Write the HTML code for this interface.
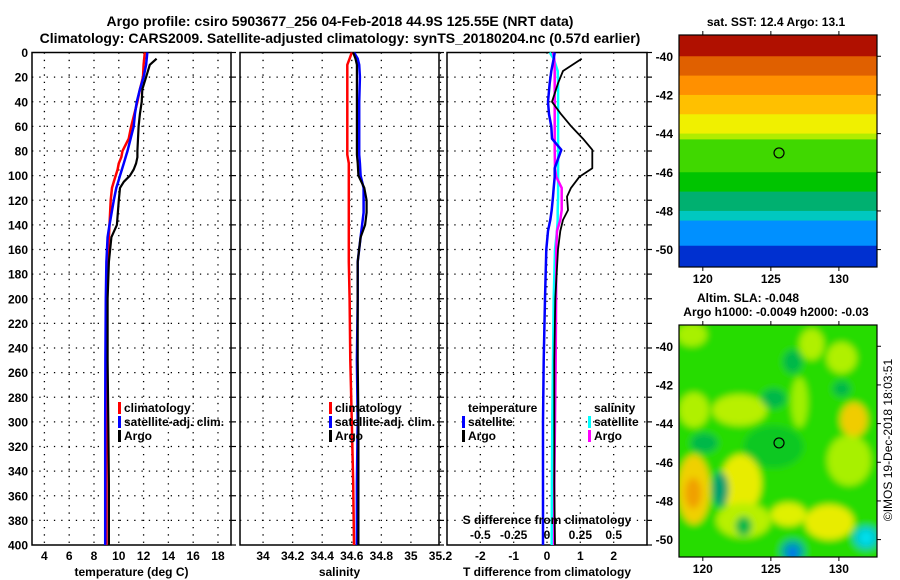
<!DOCTYPE html>
<html><head><meta charset="utf-8">
<style>
html,body{margin:0;padding:0;background:#fff;}
svg{display:block;font-family:"Liberation Sans",sans-serif;font-weight:bold;}
</style></head>
<body>
<svg id="fig" width="900" height="580" viewBox="0 0 900 580" xmlns="http://www.w3.org/2000/svg">
<text x="340" y="26" font-size="14" text-anchor="middle">Argo profile: csiro 5903677_256 04-Feb-2018 44.9S 125.55E (NRT data)</text>
<text x="340" y="43" font-size="14" text-anchor="middle">Climatology: CARS2009. Satellite-adjusted climatology: synTS_20180204.nc (0.57d earlier)</text>
<text x="776" y="26" font-size="12" text-anchor="middle">sat. SST: 12.4 Argo: 13.1</text>
<text x="748" y="302" font-size="12" text-anchor="middle">Altim. SLA: -0.048</text>
<text x="776" y="316" font-size="12" text-anchor="middle">Argo h1000: -0.0049 h2000: -0.03</text>
<text x="0" y="0" font-size="12" font-weight="normal" text-anchor="middle" transform="translate(892,440) rotate(-90)">©IMOS 19-Dec-2018 18:03:51</text>
<g id="plots"></g>
</svg>
<script>
// ---------- data ----------
const tPres   = [0,5,10,20,30,40,50,60,70,80,85,90,95,100,105,110,120,140,150,170,200,250,300,350,400];
const tArgo   = [null,13.05,12.5,12.2,11.9,11.85,11.7,11.6,11.55,11.5,11.5,11.4,11.2,10.9,10.4,10.1,10.0,9.85,9.4,9.2,9.1,9.1,9.15,9.2,9.2];
const tClim   = [12.1,12.05,12.0,11.95,11.7,11.5,11.25,11.0,10.8,10.3,10.2,10.0,9.9,9.75,9.6,9.45,9.35,9.25,9.2,9.1,9.05,9.0,9.0,9.0,9.0];
const tSat    = [12.3,12.25,12.2,12.0,11.7,11.45,11.3,11.2,10.95,10.7,10.55,10.4,10.25,10.1,9.95,9.8,9.6,9.25,9.1,9.0,8.95,8.92,8.9,8.9,8.9];

const sPres   = [0,5,10,20,40,60,83,90,100,110,120,130,140,150,170,200,250,300,350,400];
const sClim   = [34.6,34.585,34.57,34.57,34.57,34.57,34.57,34.58,34.58,34.58,34.58,34.58,34.58,34.58,34.58,34.585,34.59,34.6,34.61,34.615];
const sSat    = [34.615,34.64,34.65,34.655,34.65,34.65,34.65,34.655,34.66,34.68,34.68,34.68,34.67,34.66,34.64,34.64,34.635,34.64,34.635,34.635];
const sArgo   = [34.61,34.625,34.635,34.635,34.635,34.635,34.635,34.64,34.645,34.685,34.7,34.7,34.69,34.66,34.64,34.64,34.64,34.645,34.645,34.645];

const dPres   = [0,5,15,25,40,50,60,70,79,94,101,110,117,128,136,145,160,200,250,300,350,400];
const dTArgo  = [null,1.04,0.48,0.33,0.15,0.42,0.73,1.08,1.36,1.36,0.97,0.72,0.6,0.63,0.48,0.4,0.33,0.25,0.22,0.22,0.22,0.24];
const dTSat   = [0.23,0.2,0.13,0.08,0.03,0.06,0.13,0.15,0.43,0.23,0.23,0.2,0.18,0.14,0.1,0.03,-0.02,-0.06,-0.1,-0.12,-0.12,-0.12];
const dSArgo  = [0.045,0.055,0.058,0.058,0.058,0.058,0.058,0.058,0.058,0.06,0.07,0.11,0.11,0.11,0.1,0.075,0.07,0.068,0.065,0.06,0.055,0.053];
const dSSat   = [0.02,0.05,0.08,0.083,0.083,0.083,0.083,0.083,0.083,0.083,0.083,0.083,0.083,0.08,0.08,0.075,0.06,0.05,0.045,0.04,0.037,0.035];

// SST map: palette index per latitude row, from -38.9 southward
const sstRowLat = [-38.9,-39.5,-40.0,-40.5,-41.0,-41.5,-42.0,-42.5,-43.0,-43.5,-44.0,-44.3,-45.0,-45.5,-46.0,-46.5,-47.0,-47.5,-48.0,-48.5,-49.0,-49.5,-49.8,-50.3];
const sstRowVal = [12,11.7,11.3,10.8,10.2,9.5,9.0,8.6,8.0,7.7,7.2,5.6,5.5,5.5,5.2,4.8,4.3,3.6,2.8,2.4,2.0,1.5,0.8,0.5];
const argoLon = 125.6, argoLat = -45.0;

// SLA map anomalies: lon, lat, radius lon (deg), radius lat (deg), colour
const blobLon = [125.2,119.2,119.35,122.7,119.35,122.8,123.0,129.3,126.3,131.1,130.75,130.2,128.0,127.1,119.3,126.6,125.2,120.1,121.3,130.2,123.0,126.6,126.6,132.0,132.0];
const blobLat = [-45.2,-39.4,-43.3,-43.3,-47.4,-47.1,-49.0,-49.1,-48.7,-43.8,-45.9,-40.6,-39.9,-42.9,-47.6,-40.8,-42.7,-45.0,-47.4,-42.2,-49.3,-50.6,-50.7,-49.9,-49.9];
const blobRx  = [2.2,1.1,1.1,2.0,1.2,1.5,2.0,1.8,1.3,1.0,1.6,1.1,0.9,0.6,0.6,0.7,0.9,1.0,0.6,0.65,0.6,0.9,0.35,0.95,0.45];
const blobRy  = [1.1,0.6,0.9,0.8,1.8,1.5,0.9,0.9,0.6,0.9,1.3,0.8,0.8,1.3,0.8,0.6,0.5,0.5,0.9,0.4,0.5,0.6,0.35,0.6,0.35];
const blobCol = ["#10c820","#a8f000","#b0f000","#b8f000","#f0d000","#e8ec00","#b8f000","#e8ec00","#e0f000","#f0cc00","#a8f000","#b0f000","#b0f000","#a0f000","#f0a000","#00b848","#00b848","#00b848","#00a070","#00b848","#00b848","#00a8a0","#0070f0","#00c8c8","#00e0f0"];

const pal = ["#00008c","#0030d0","#0090ff","#00c8c0","#00b070","#00c400","#40d800","#b0ec00","#f0f000","#ffc000","#ff9000","#e06000","#b01000","#a00000"];

// ---------- drawing ----------
const NS="http://www.w3.org/2000/svg";
const root=document.getElementById('plots');
function el(tag,attrs,parent){const e=document.createElementNS(NS,tag);for(const k in attrs)e.setAttribute(k,attrs[k]);(parent||root).appendChild(e);return e;}
const Y0=52.5,Y1=545;
const yP=p=>Y0+(Y1-Y0)*p/400;

function panel(name,x0,x1,dmin,dmax,ticks,tickLab,xlabel,showY){
  const g=el('g',{});
  
  
  const xs=v=>x0+(x1-x0)*(v-dmin)/(dmax-dmin);
  for(let p=20;p<400;p+=20){
    const l=el('line',{x1:x0,x2:x1,y1:yP(p),y2:yP(p),stroke:'#000','stroke-width':1.3,'stroke-dasharray':'1.3 6'},g);
    
    
  }
  ticks.forEach((t,i)=>{
    const l=el('line',{x1:xs(t),x2:xs(t),y1:Y0,y2:Y1,stroke:'#000','stroke-width':1.3,'stroke-dasharray':'1.3 6'},g);
    
    
    if(tickLab){
      const tx=el('text',{x:xs(t),y:560,'font-size':12,'text-anchor':'middle'},g);
      tx.textContent=tickLab[i];
      
      
    }
  });
  for(let p=0;p<=400;p+=20){
    el('line',{x1:x1,x2:x1+5,y1:yP(p),y2:yP(p),stroke:'#000','stroke-width':1.2},g);
    if(showY){
      const tx=el('text',{x:x0-4,y:yP(p)+4.5,'font-size':12,'text-anchor':'end'},g);
      tx.textContent=p;
      
      
    }
  }
  const lab=el('text',{x:(x0+x1)/2,y:576,'font-size':12,'text-anchor':'middle'},g);
  lab.textContent=xlabel;
  
  
  const fr=el('rect',{x:x0,y:Y0,width:x1-x0,height:Y1-Y0,fill:'none',stroke:'#000','stroke-width':1.5},g);
  
  
  return {g,xs};
}
function line(P,name,pres,vals,xs,color,w){
  let d='';pres.forEach((p,i)=>{if(vals[i]===null)return;d+=(d?'L':'M')+xs(vals[i]).toFixed(1)+','+yP(p).toFixed(1);});
  const l=el('path',{d,fill:'none',stroke:color,'stroke-width':w,'stroke-linejoin':'round'},P.g);
  
  
}
function legend(g,x,y,items){
  items.forEach((it,i)=>{
    if(it[1]){const b=el('rect',{x:x,y:y+i*14-10,width:3,height:12,fill:it[1]},g);
      
      }
    const t=el('text',{x:x+6,y:y+i*14,'font-size':12},g);
    t.textContent=it[0];
    
    
  });
}

// panel 1: temperature
const P1=panel('temperature-panel',32,231,3,19.05,[4,6,8,10,12,14,16,18],['4','6','8','10','12','14','16','18'],'temperature (deg C)',true);
line(P1,'climatology-temperature-line',tPres,tClim,P1.xs,'#ff0000',2.5);
line(P1,'satellite-temperature-line',tPres,tSat,P1.xs,'#0000ff',2.5);
line(P1,'argo-temperature-line',tPres,tArgo,P1.xs,'#000',2.2);
legend(P1.g,118,412,[['climatology','#ff0000'],['satellite-adj. clim.','#0000ff'],['Argo','#000']]);

// panel 2: salinity
const P2=panel('salinity-panel',240,439,33.844,35.19,[34,34.2,34.4,34.6,34.8,35,35.2],['34','34.2','34.4','34.6','34.8','35','35.2'],'salinity',false);
line(P2,'climatology-salinity-line',sPres,sClim,P2.xs,'#ff0000',2.5);
line(P2,'satellite-salinity-line',sPres,sSat,P2.xs,'#0000ff',2.5);
line(P2,'argo-salinity-line',sPres,sArgo,P2.xs,'#000',2.2);
legend(P2.g,329,412,[['climatology','#ff0000'],['satellite-adj. clim.','#0000ff'],['Argo','#000']]);

// panel 3: differences
const P3=panel('difference-panel',447,647,-3,3,[-2,-1,0,1,2],['-2','-1','0','1','2'],'T difference from climatology',false);
const xsS=v=>P3.xs(v*4);
line(P3,'satellite-s-diff-line',dPres,dSSat,xsS,'#00ffff',2.5);
line(P3,'argo-s-diff-line',dPres,dSArgo,xsS,'#ff00ff',2.5);
line(P3,'satellite-t-diff-line',dPres,dTSat,P3.xs,'#0000ff',2.5);
line(P3,'argo-t-diff-line',dPres,dTArgo,P3.xs,'#000',1.8);
legend(P3.g,462,412,[['temperature',null],['satellite','#0000ff'],['Argo','#000']]);
legend(P3.g,588,412,[['salinity',null],['satellite','#00ffff'],['Argo','#ff00ff']]);
const sl=el('text',{x:547,y:524,'font-size':12,'text-anchor':'middle'},P3.g);
sl.textContent='S difference from climatology';


[[-0.5,'-0.5'],[-0.25,'-0.25'],[0,'0'],[0.25,'0.25'],[0.5,'0.5']].forEach(t=>{
  const tx=el('text',{x:xsS(t[0]),y:539,'font-size':12,'text-anchor':'middle'},P3.g);
  tx.textContent=t[1];
  
  
});

// maps
const MX0=679,MX1=877;
const mx=lon=>MX0+(MX1-MX0)*(lon-118.25)/(132.8-118.25);
function mapAxes(g,y0,y1){
  const my=lat=>y0+(y1-y0)*(lat-(-38.9))/(-50.9-(-38.9));
  [120,125,130].forEach(l=>{
    el('line',{x1:mx(l),x2:mx(l),y1:y0-4,y2:y0,stroke:'#000'},g);
    el('line',{x1:mx(l),x2:mx(l),y1:y1,y2:y1+4,stroke:'#000'},g);
    const t=el('text',{x:mx(l),y:y1+16,'font-size':12,'text-anchor':'middle'},g);
    t.textContent=l;
    
    
  });
  for(let lat=-40;lat>=-50;lat-=2){
    el('line',{x1:MX1,x2:MX1+4,y1:my(lat),y2:my(lat),stroke:'#000'},g);
    const t=el('text',{x:MX0-6,y:my(lat)+4.5,'font-size':12,'text-anchor':'end'},g);
    t.textContent=lat;
    
    
  }
  const c=el('circle',{cx:mx(argoLon),cy:my(argoLat),r:5,fill:'none',stroke:'#000','stroke-width':1.2},g);
  
  
  const f=el('rect',{x:MX0,y:y0,width:MX1-MX0,height:y1-y0,fill:'none',stroke:'#000','stroke-width':1.2},g);
  
  
  return my;
}
function palCol(v){const i=Math.max(0,Math.min(pal.length-1,Math.round(v)));return pal[i];}
// SST map
const gS=el('g',{});


{
  const y0=35,y1=267;const my=lat=>y0+(y1-y0)*(lat+38.9)/(-12);
  sstRowLat.forEach((lat,i)=>{
    const next=i<sstRowLat.length-1?sstRowLat[i+1]:-50.9;
    const r=el('rect',{x:MX0,y:my(lat),width:MX1-MX0,height:my(next)-my(lat)+0.5,fill:palCol(sstRowVal[i])},gS);
    
    
  });
  mapAxes(gS,y0,y1);
}
// SLA map
const gA=el('g',{});


{
  const y0=325,y1=557;const my=lat=>y0+(y1-y0)*(lat+38.9)/(-12);
  const defs=el('defs',{},gA);
  const flt=el('filter',{id:'blur',x:'-20%',y:'-20%',width:'140%',height:'140%'},defs);
  el('feGaussianBlur',{stdDeviation:3.5},flt);
  const cp=el('clipPath',{id:'mclip'},defs);
  el('rect',{x:MX0,y:y0,width:MX1-MX0,height:y1-y0},cp);
  const gc=el('g',{'clip-path':'url(#mclip)'},gA);
  el('rect',{x:MX0,y:y0,width:MX1-MX0,height:y1-y0,fill:'#28dc00'},gc);
  const gb=el('g',{filter:'url(#blur)'},gc);
  el('rect',{x:MX0-20,y:y0-20,width:MX1-MX0+40,height:y1-y0+40,fill:'#28dc00'},gb);
  blobLon.forEach((lon,i)=>{
    const sx=(MX1-MX0)/14.55, sy=(y1-y0)/12;
    const e=el('ellipse',{cx:mx(lon),cy:my(blobLat[i]),rx:blobRx[i]*sx,ry:blobRy[i]*sy,fill:blobCol[i]},gb);
    
    
  });
  mapAxes(gA,y0,y1);
}
</script>
</body></html>
